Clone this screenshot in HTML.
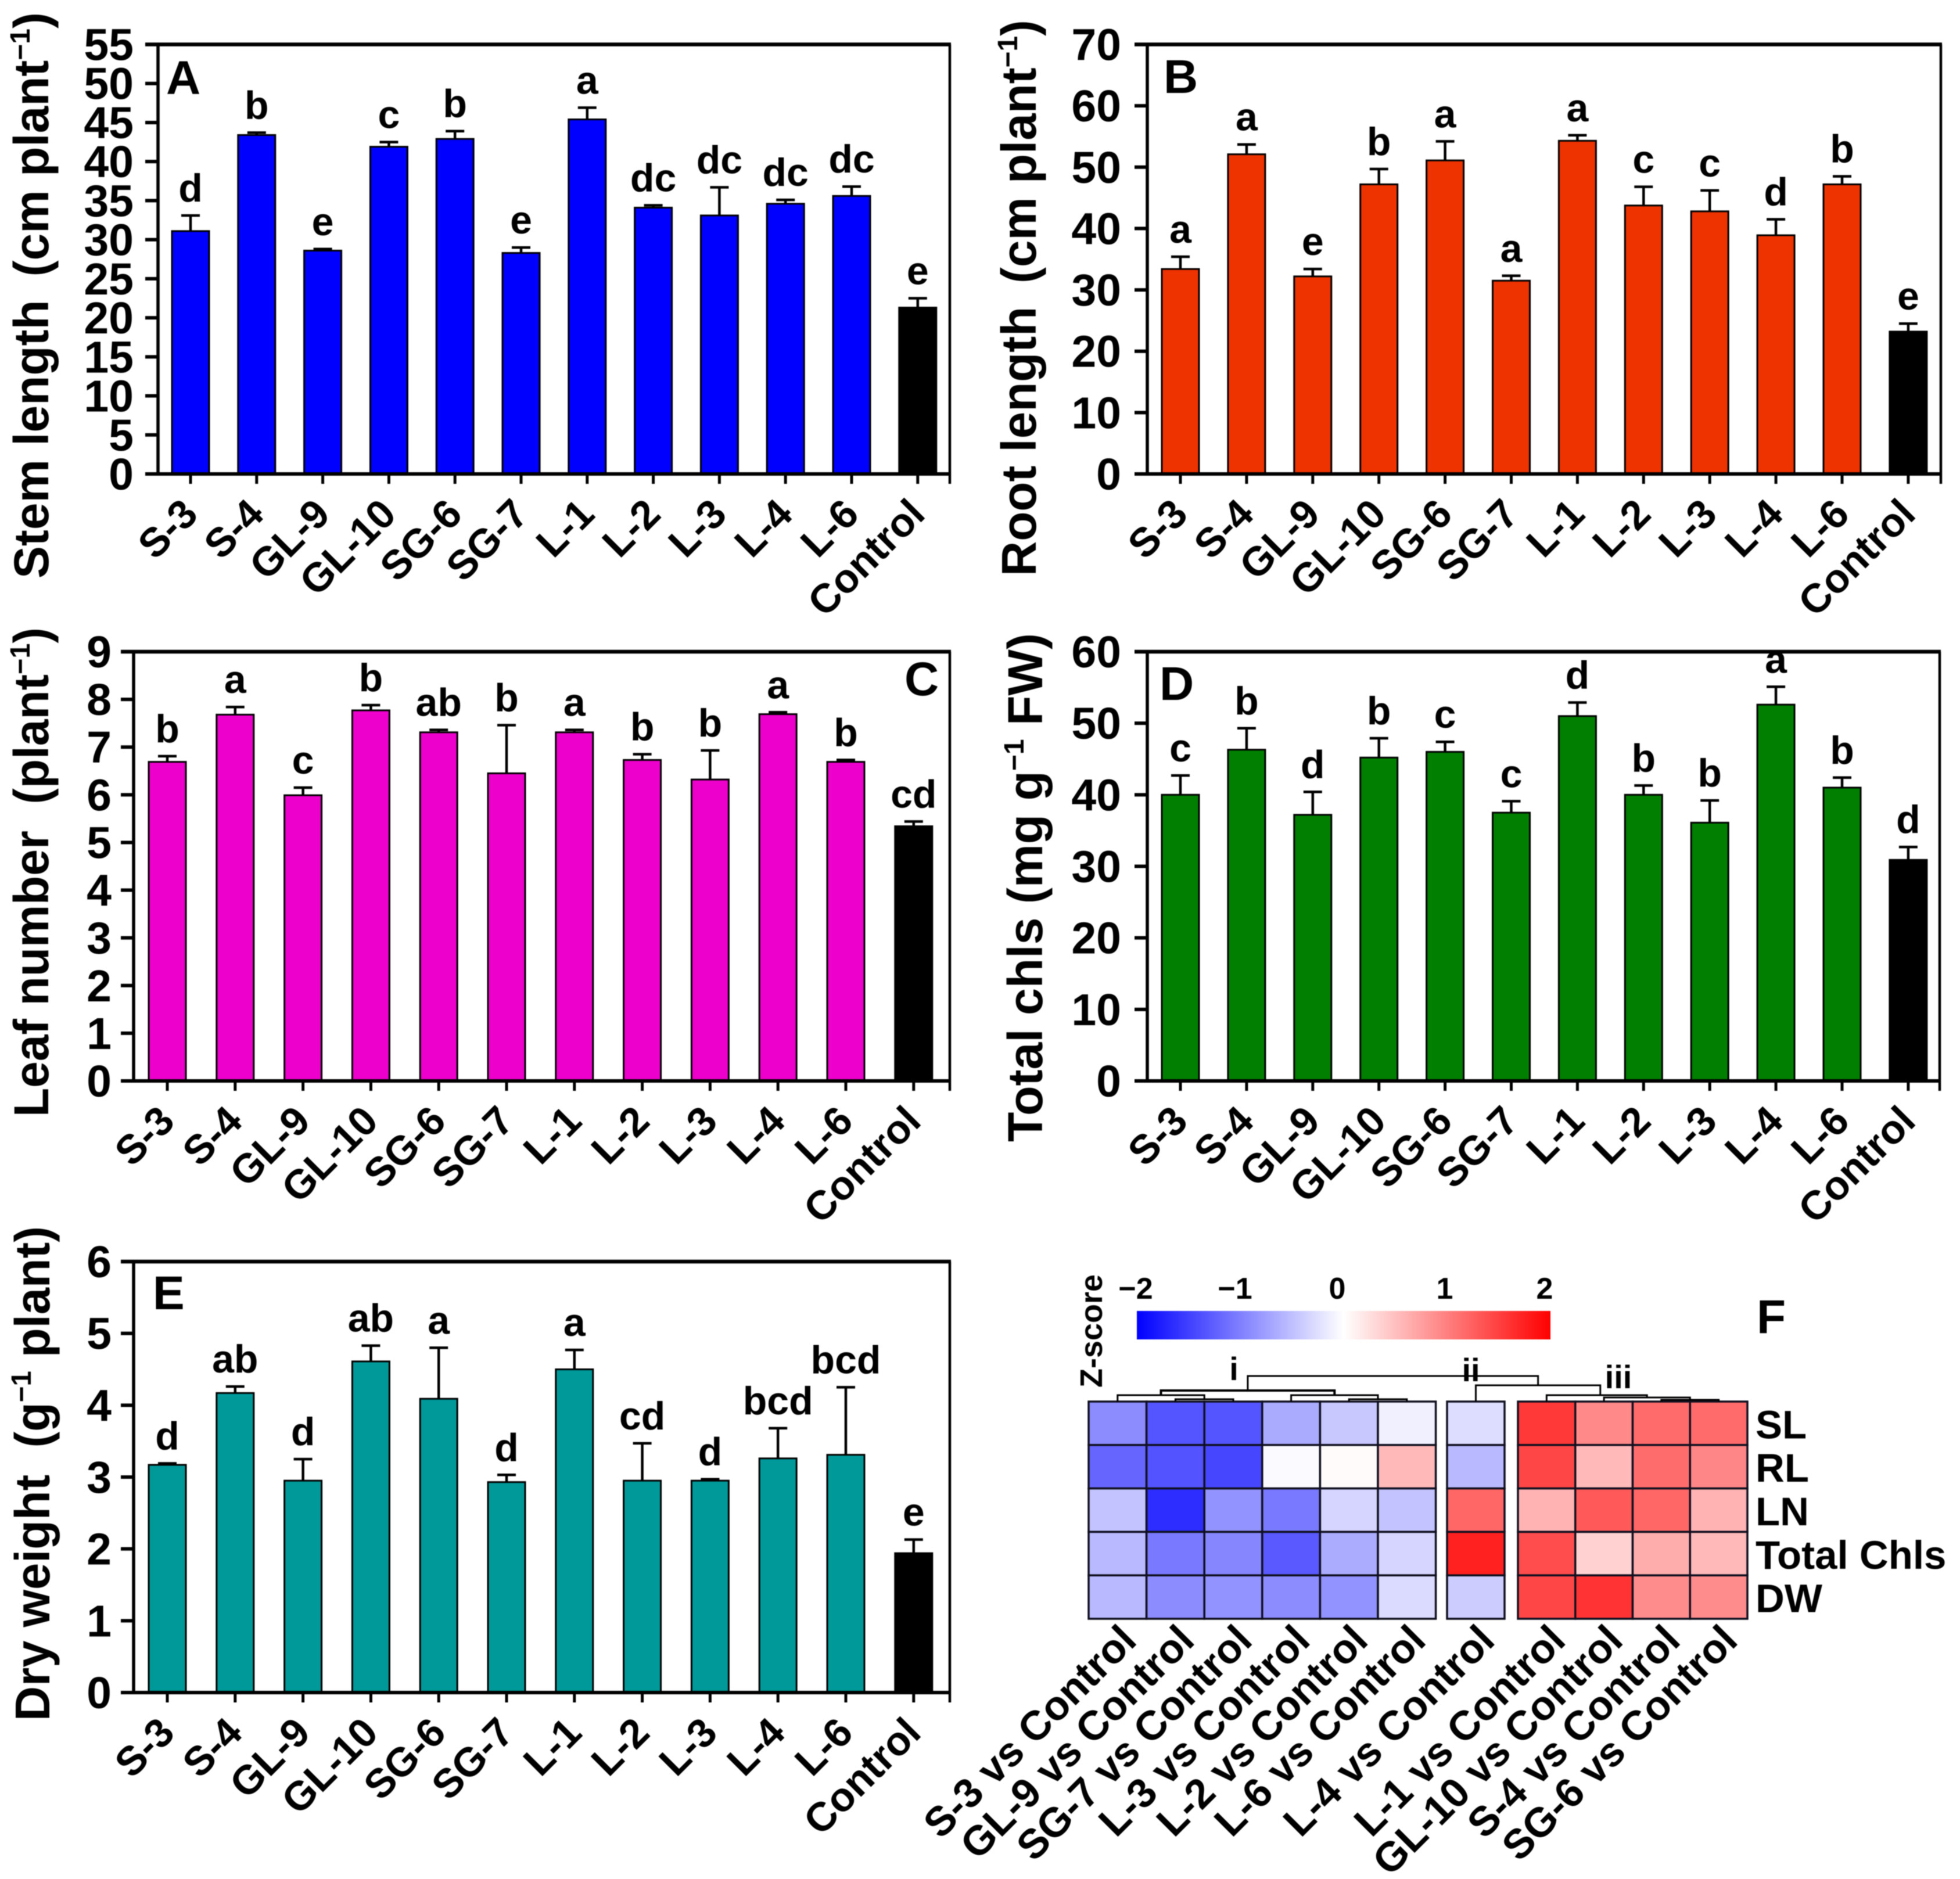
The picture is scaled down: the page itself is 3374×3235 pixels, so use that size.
<!DOCTYPE html>
<html lang="en">
<head>
<meta charset="utf-8">
<title>Plant growth traits and heat map</title>
<style>
html,body{margin:0;padding:0;background:#fff;}
#figure{display:block;width:3374px;height:3235px;filter:blur(0.8px);}
text{font-family:"Liberation Sans",sans-serif;font-weight:bold;fill:#000;}
</style>
</head>
<body>
<svg id="figure" xmlns="http://www.w3.org/2000/svg" width="3374" height="3235" viewBox="0 0 3374 3235">
<defs>
<linearGradient id="zscale" x1="0" x2="1" y1="0" y2="0">
<stop offset="0" stop-color="#0000ff"/>
<stop offset="0.5" stop-color="#ffffff"/>
<stop offset="1" stop-color="#ff0000"/>
</linearGradient>
</defs>
<rect width="3374" height="3235" fill="#fff"/>
</svg>
<script>
// ---------- Shared categories ----------
const categories = ['S-3','S-4','GL-9','GL-10','SG-6','SG-7','L-1','L-2','L-3','L-4','L-6','Control'];

// ---------- Panel A: stem length ----------
const stemTicks = [0,5,10,15,20,25,30,35,40,45,50,55];
const stemValues = [31.1,43.4,28.6,41.9,42.9,28.3,45.4,34.1,33.1,34.6,35.6,21.3];
const stemErrors = [2.0,0.3,0.2,0.6,1.0,0.7,1.5,0.3,3.6,0.5,1.2,1.2];
const stemLetters = ['d','b','e','c','b','e','a','dc','dc','dc','dc','e'];

// ---------- Panel B: root length ----------
const rootTicks = [0,10,20,30,40,50,60,70];
const rootValues = [33.4,52.1,32.2,47.2,51.1,31.5,54.3,43.75,42.8,38.9,47.2,23.2];
const rootErrors = [2.0,1.6,1.2,2.5,3.1,0.8,0.9,3.05,3.4,2.6,1.3,1.3];
const rootLetters = ['a','a','e','b','a','a','a','c','c','d','b','e'];

// ---------- Panel C: leaf number ----------
const leafTicks = [0,1,2,3,4,5,6,7,8,9];
const leafValues = [6.69,7.68,5.99,7.77,7.31,6.45,7.31,6.73,6.32,7.69,6.69,5.34];
const leafErrors = [0.12,0.16,0.16,0.11,0.05,1.01,0.05,0.12,0.61,0.04,0.04,0.10];
const leafLetters = ['b','a','c','b','ab','b','a','b','b','a','b','cd'];

// ---------- Panel D: total chlorophylls ----------
const chlTicks = [0,10,20,30,40,50,60];
const chlValues = [40.0,46.3,37.2,45.2,46.0,37.5,51.0,40.0,36.1,52.6,41.0,30.9];
const chlErrors = [2.7,3.0,3.2,2.7,1.4,1.6,1.9,1.3,3.1,2.5,1.4,1.8];
const chlLetters = ['c','b','d','b','c','c','d','b','b','a','b','d'];

// ---------- Panel E: dry weight ----------
const dryTicks = [0,1,2,3,4,5,6];
const dryValues = [3.17,4.17,2.95,4.61,4.09,2.93,4.50,2.95,2.95,3.26,3.31,1.94];
const dryErrors = [0.02,0.09,0.30,0.22,0.71,0.10,0.27,0.52,0.02,0.42,0.94,0.19];
const dryLetters = ['d','ab','d','ab','a','d','a','cd','d','bcd','bcd','e'];

// ---------- Panel F: heat map ----------
const heatColumns = ['S-3 vs Control','GL-9 vs Control','SG-7 vs Control','L-3 vs Control','L-2 vs Control','L-6 vs Control','L-4 vs Control','L-1 vs Control','GL-10 vs Control','S-4 vs Control','SG-6 vs Control'];
const heatRows = ['SL','RL','LN','Total Chls','DW'];
const zSL = [-0.90,-1.33,-1.33,-0.67,-0.43,-0.12,-0.27,1.56,0.93,1.16,1.16];
const zRL = [-1.20,-1.35,-1.45,-0.04,0.03,0.55,-0.55,1.45,0.55,1.15,0.95];
const zLN = [-0.47,-1.65,-0.85,-1.05,-0.33,-0.47,1.20,0.60,1.30,1.20,0.60];
const zChl = [-0.55,-1.05,-0.95,-1.30,-0.65,-0.33,1.75,1.40,0.36,0.65,0.55];
const zDW = [-0.55,-0.90,-0.85,-0.90,-0.85,-0.28,-0.40,1.45,1.60,0.90,0.90];
const zColorTicks = [-2,-1,0,1,2];

const NS = 'http://www.w3.org/2000/svg';
const figure = document.getElementById('figure');

function make(tag, attrs, parent) {
  const el = document.createElementNS(NS, tag);
  for (const k in attrs) el.setAttribute(k, attrs[k]);
  parent.appendChild(el);
  return el;
}
function fitAlong(el, x, y, angle, target) {
  const natural = el.getComputedTextLength();
  el.setAttribute('transform', 'translate(' + x + ' ' + y + ') rotate(' + angle + ') scale(' + (target / natural) + ' 1)');
}

function drawPanel(cfg) {
  const g = make('g', {}, figure);
  
  

  const n = cfg.values.length;
  const xScale = i => cfg.firstX + i * cfg.stepX;
  const maxTick = cfg.ticks[cfg.ticks.length - 1];
  const yScale = v => cfg.bottom - (v / maxTick) * (cfg.bottom - cfg.top);
  const barW = 64;

  for (let i = 0; i < n; i++) {
    const isControl = categories[i] === 'Control';
    const cx = xScale(i);
    const topVal = cfg.values[i] + cfg.errors[i];

    const stem = make('line', {x1:cx, x2:cx, y1:yScale(cfg.values[i]), y2:yScale(topVal), stroke:'#000', 'stroke-width':4.5}, g);
    
    

    const cap = make('line', {x1:cx-16, x2:cx+16, y1:yScale(topVal), y2:yScale(topVal), stroke:'#000', 'stroke-width':4.5}, g);
    
    

    const bar = make('rect', {x:cx-barW/2, y:yScale(cfg.values[i]), width:barW, height:cfg.bottom-yScale(cfg.values[i]), fill:isControl?'#000':cfg.color, stroke:'#000', 'stroke-width':3}, g);
    
    

    const letter = make('text', {x:cx, y:yScale(topVal)-24, 'text-anchor':'middle', 'font-size':68}, g);
    letter.textContent = cfg.letters[i];
    
    

    const tick = make('line', {x1:cx, x2:cx, y1:cfg.bottom, y2:cfg.bottom+17, stroke:'#000', 'stroke-width':5}, g);
    
    

    const px = cx + 16;
    const py = cfg.bottom + 73;
    const lab = make('text', {'text-anchor':'end', 'font-size':70, transform:'translate(' + px + ' ' + py + ') rotate(-45)'}, g);
    lab.textContent = categories[i];
    
    
  }

  cfg.ticks.forEach(t => {
    const y = yScale(t);
    const tk = make('line', {x1:cfg.left-22, x2:cfg.left, y1:y, y2:y, stroke:'#000', 'stroke-width':6}, g);
    
    

    const lab = make('text', {x:cfg.left-22-cfg.labelGap, y:y+27, 'text-anchor':'end', 'font-size':77}, g);
    lab.textContent = t;
    
    
  });

  const frameTop = make('line', {x1:cfg.left-22, x2:cfg.right+2, y1:cfg.top, y2:cfg.top, stroke:'#000', 'stroke-width':6.5}, g);
  
  

  const frameLeft = make('line', {x1:cfg.left, x2:cfg.left, y1:cfg.top, y2:cfg.bottom, stroke:'#000', 'stroke-width':5.5}, g);
  
  

  const frameRight = make('line', {x1:cfg.right, x2:cfg.right, y1:cfg.top, y2:cfg.bottom+17, stroke:'#000', 'stroke-width':4.5}, g);
  
  

  const frameBottom = make('line', {x1:cfg.left-22, x2:cfg.right+2, y1:cfg.bottom, y2:cfg.bottom, stroke:'#000', 'stroke-width':6}, g);
  
  

  const panelLetter = make('text', {x:cfg.letterX, y:cfg.letterY, 'font-size':82}, g);
  panelLetter.textContent = cfg.id;
  
  

  const title = make('text', {'font-size':84}, g);
  title.setAttribute('xml:space', 'preserve');
  
  
  cfg.title.forEach(part => {
    const sp = make('tspan', part.sup ? {'font-size':48, dy:-32} : (part.after ? {dy:32} : {}), title);
    sp.textContent = part.t;
  });
  fitAlong(title, cfg.titleX, cfg.titleStart, -90, cfg.titleStart - cfg.titleEnd);
}

drawPanel({id:'A', color:'#0000ff', values:stemValues, errors:stemErrors, letters:stemLetters, ticks:stemTicks,
  left:272, right:1635, top:76.5, bottom:816, firstX:328, stepX:113.8, labelGap:20, letterX:286, letterY:162,
  title:[{t:'Stem length\u00a0\u2009(cm plant'},{t:'\u22121',sup:true},{t:')',after:true}], titleX:83, titleStart:996, titleEnd:21});

drawPanel({id:'B', color:'#ee3300', values:rootValues, errors:rootErrors, letters:rootLetters, ticks:rootTicks,
  left:1975, right:3341, top:76.5, bottom:816, firstX:2032, stepX:113.9, labelGap:23, letterX:2003, letterY:160,
  title:[{t:'Root length\u00a0\u2009(cm plant'},{t:'\u22121',sup:true},{t:')',after:true}], titleX:1783, titleStart:992, titleEnd:34});

drawPanel({id:'C', color:'#ee00cc', values:leafValues, errors:leafErrors, letters:leafLetters, ticks:leafTicks,
  left:230, right:1635, top:1122, bottom:1861, firstX:288, stepX:116.8, labelGap:16, letterX:1557, letterY:1197,
  title:[{t:'Leaf number\u00a0 (plant'},{t:'\u22121',sup:true},{t:')',after:true}], titleX:83, titleStart:1923, titleEnd:1080});

drawPanel({id:'D', color:'#007f00', values:chlValues, errors:chlErrors, letters:chlLetters, ticks:chlTicks,
  left:1975, right:3339, top:1122, bottom:1861, firstX:2032, stepX:113.9, labelGap:23, letterX:1996, letterY:1205,
  title:[{t:'Total chls (mg g'},{t:'\u22121',sup:true},{t:' FW)',after:true}], titleX:1794, titleStart:1966, titleEnd:1090});

drawPanel({id:'E', color:'#009999', values:dryValues, errors:dryErrors, letters:dryLetters, ticks:dryTicks,
  left:230, right:1635, top:2172, bottom:2914, firstX:288, stepX:116.8, labelGap:16, letterX:263, letterY:2254,
  title:[{t:'Dry weight\u00a0 (g'},{t:'\u22121',sup:true},{t:' plant)',after:true}], titleX:85, titleStart:2963, titleEnd:2111});

// ---------- Heat map drawing ----------
(function () {
  const g = make('g', {}, figure);
  
  

  const zRows = [zSL, zRL, zLN, zChl, zDW];
  const rowTop = r => 2413 + r * 74.8;
  const rowH = 74.8;
  const colLeft = c => c < 6 ? 1874 + c * 99.6 : (c === 6 ? 2491 : 2613 + (c - 7) * 98.75);
  const colW = c => c < 6 ? 99.6 : (c === 6 ? 99 : 98.75);
  const colMid = c => colLeft(c) + colW(c) / 2;
  const zColor = z => {
    const k = Math.min(1, Math.abs(z) / 2);
    const v = Math.round(255 * (1 - k));
    return z < 0 ? 'rgb(' + v + ',' + v + ',255)' : 'rgb(255,' + v + ',' + v + ')';
  };

  zRows.forEach((vals, r) => {
    vals.forEach((z, c) => {
      const cell = make('rect', {x:colLeft(c), y:rowTop(r), width:colW(c), height:rowH, fill:zColor(z), stroke:'#101020', 'stroke-width':3.5}, g);
      
      
    });
    const lab = make('text', {x:3022, y:rowTop(r) + rowH / 2 + 26, 'font-size':69}, g);
    lab.textContent = heatRows[r];
    
    
  });

  heatColumns.forEach((name, c) => {
    const lab = make('text', {'text-anchor':'end', 'font-size':71, transform:'translate(' + (colMid(c) + 36) + ' 2828) rotate(-45)'}, g);
    lab.textContent = name;
    
    
  });

  // Dendrogram: each merge joins two x positions at a height
  const link = (xa, ya, xb, yb, y, w) => {
    const p = make('polyline', {points:xa + ',' + ya + ' ' + xa + ',' + y + ' ' + xb + ',' + y + ' ' + xb + ',' + yb, fill:'none', stroke:'#000', 'stroke-width':w || 3}, g);
    
    
  };
  const leaf = 2413;
  const m12 = (colMid(1) + colMid(2)) / 2;
  const m45 = (colMid(4) + colMid(5)) / 2;
  const mA = (colMid(0) + m12) / 2;
  const mB = (colMid(3) + m45) / 2;
  const mI = (mA + mB) / 2;
  const m910 = (colMid(9) + colMid(10)) / 2;
  const m8 = (colMid(8) + m910) / 2;
  const mIII = (colMid(7) + m8) / 2 + 6;
  const mJ = (colMid(6) + mIII) / 2;
  link(colMid(1), leaf, colMid(2), leaf, 2409);
  link(colMid(0), leaf, m12, 2409, 2402);
  link(colMid(4), leaf, colMid(5), leaf, 2409);
  link(colMid(3), leaf, m45, 2409, 2402);
  link(mA, 2402, mB, 2402, 2394, 4);
  link(colMid(9), leaf, colMid(10), leaf, 2410);
  link(colMid(8), leaf, m910, 2410, 2406);
  link(colMid(7), leaf, m8, 2406, 2402);
  link(colMid(6), leaf, mIII, 2402, 2385);
  link(mI, 2394, mJ, 2385, 2369);

  [['i', 2124, 2376], ['ii', 2532, 2378], ['iii', 2786, 2390]].forEach(d => {
    const t = make('text', {x:d[1], y:d[2], 'text-anchor':'middle', 'font-size':56}, g);
    t.textContent = d[0];
    
    
  });

  const bar = make('rect', {x:1957, y:2257, width:712, height:49, fill:'url(#zscale)'}, g);
  
  

  const zMin = zColorTicks[0];
  const zMax = zColorTicks[zColorTicks.length - 1];
  zColorTicks.forEach(z => {
    const x = 1957 + (z - zMin) / (zMax - zMin) * 712;
    const t = make('text', {x:x + (z === zMin ? -2 : (z === zMax ? -10 : (z < 0 ? -9 : (z > 0 ? -4 : -11)))), y:2236, 'text-anchor':'middle', 'font-size':52}, g);
    t.textContent = z < 0 ? '\u2212' + Math.abs(z) : String(z);
    
    
  });

  const zTitle = make('text', {'font-size':54, transform:'translate(1897 2389) rotate(-90)'}, g);
  zTitle.textContent = 'Z-score';
  
  

  const letter = make('text', {x:3024, y:2295, 'font-size':82}, g);
  letter.textContent = 'F';
  
  
})();
</script>
</body>
</html>
